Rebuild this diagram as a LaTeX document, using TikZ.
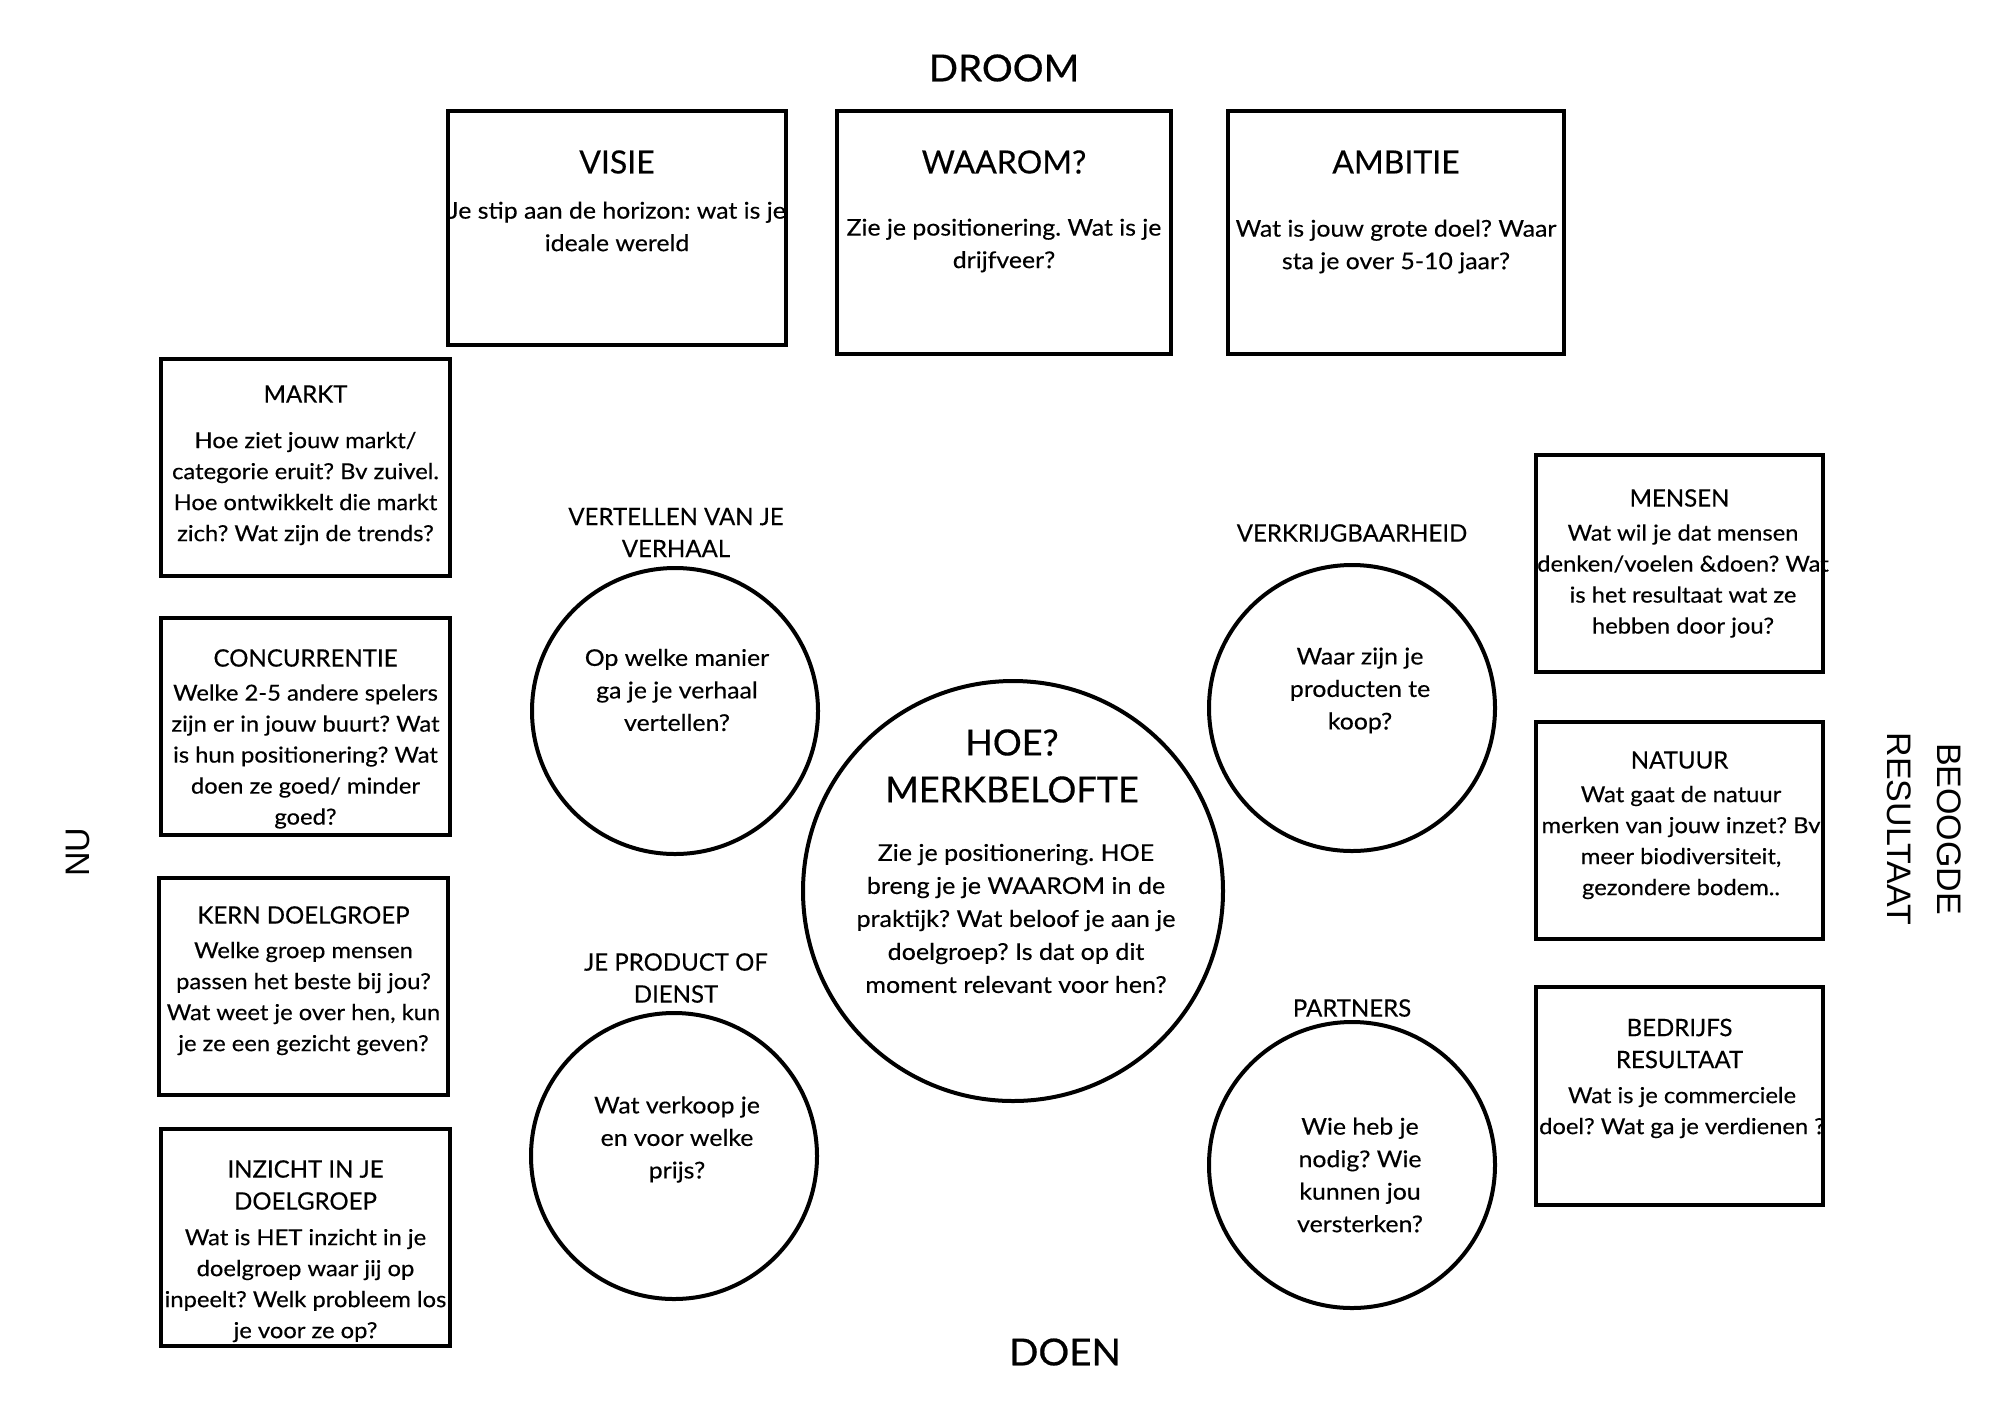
\documentclass[tikz,border=0pt]{standalone}
\usepackage{fontspec}
\setmainfont{Lato}[FakeBold=0.35]
\newfontfamily\bodyfam{Lato}[FakeStretch=1.08,FakeBold=0.35]
\newfontfamily\sidefam{Lato}[FakeStretch=1.04,FakeBold=0.6]
\newfontfamily\arialfont{Liberation Sans}
\frenchspacing
\tikzset{
  boxshape/.style={draw, line width=2pt, inner sep=0pt},
  circshape/.style={draw, circle, line width=2pt, inner sep=0pt, minimum size=143pt},
  txt/.style={align=center, inner sep=0pt},
  bodyt/.style={txt, font=\bodyfam\fontsize{11}{15.5}\selectfont},
  bodybig/.style={txt, font=\bodyfam\fontsize{11.5}{16.25}\selectfont},
  smalltitle/.style={txt, font=\fontsize{12}{16}\selectfont},
  bigtitle/.style={txt, font=\fontsize{16}{20}\selectfont},
  sidelabel/.style={txt, font=\sidefam\fontsize{18.5}{22}\selectfont},
  rotlabel/.style={txt, font=\arialfont\fontsize{17}{25}\selectfont},
}
\begin{document}
\begin{tikzpicture}[x=0.5pt,y=-0.5pt]
\useasboundingbox (0,0) rectangle (2000,1414);
\fill[white] (0,0) rectangle (2000,1414);

% side labels
\node[sidelabel] (droom) at (1004,68) {DROOM};
\node[sidelabel] (doen) at (1065,1352) {DOEN};
\node[rotlabel, rotate=90] (nu) at (78,852) {NU};
\node[rotlabel, rotate=-90] (beoogde) at (1924,829) {BEOOGDE\\RESULTAAT};

% top boxes
\node[boxshape, minimum width=169pt, minimum height=117pt] (visie) at (617,228) {};
\node[bigtitle] (visiet) at (617,162) {VISIE};
\node[bodybig] (visieb) at (617,226.5) {Je stip aan de horizon: wat is je\\ideale wereld};

\node[boxshape, minimum width=167pt, minimum height=121.5pt] (waarom) at (1004,232.5) {};
\node[bigtitle] (waaromt) at (1004,162) {WAAROM?};
\node[bodybig] (waaromb) at (1004,245.5) {Zie je positionering. Wat is je\\drijfveer?};

\node[boxshape, minimum width=168pt, minimum height=121.5pt] (ambitie) at (1396,232.5) {};
\node[bigtitle] (ambitiet) at (1396,162) {AMBITIE};
\node[bodybig] (ambitieb) at (1396,246.5) {Wat is jouw grote doel? Waar\\sta je over 5-10 jaar?};

% left boxes
\node[boxshape, minimum width=144.5pt, minimum height=108.5pt] (markt) at (305.5,467.5) {};
\node[smalltitle] (marktt) at (305.5,394) {MARKT};
\node[bodyt] (marktb) at (305.5,488.5) {Hoe ziet jouw markt/\\categorie eruit? Bv zuivel.\\Hoe ontwikkelt die markt\\zich? Wat zijn de trends?};

\node[boxshape, minimum width=144.5pt, minimum height=108.5pt] (conc) at (305.5,726.5) {};
\node[smalltitle] (conct) at (305.5,658) {CONCURRENTIE};
\node[bodyt] (concb) at (305.5,756.5) {Welke 2-5 andere spelers\\zijn er in jouw buurt? Wat\\is hun positionering? Wat\\doen ze goed/ minder\\goed?};

\node[boxshape, minimum width=144.5pt, minimum height=108.5pt] (kern) at (303.5,986.5) {};
\node[smalltitle] (kernt) at (303.5,915) {KERN DOELGROEP};
\node[bodyt] (kernb) at (303.5,998.5) {Welke groep mensen\\passen het beste bij jou?\\Wat weet je over hen, kun\\je ze een gezicht geven?};

\node[boxshape, minimum width=144.5pt, minimum height=108.5pt] (inzicht) at (305.5,1237.5) {};
\node[smalltitle] (inzichtt) at (305.5,1185) {INZICHT IN JE\\DOELGROEP};
\node[bodyt] (inzichtb) at (305.5,1285.5) {Wat is HET inzicht in je\\doelgroep waar jij op\\inpeelt? Welk probleem los\\je voor ze op?};

% right boxes
\node[boxshape, minimum width=143.5pt, minimum height=108.5pt] (mensen) at (1679.5,563.5) {};
\node[smalltitle] (mensent) at (1679.5,498) {MENSEN};
\node[bodyt] (mensenb) at (1683,581) {Wat wil je dat mensen\\denken/voelen \&doen? Wat\\is het resultaat wat ze\\hebben door jou?};

\node[boxshape, minimum width=143.5pt, minimum height=108.5pt] (natuur) at (1679.5,830.5) {};
\node[smalltitle] (natuurt) at (1679.5,760) {NATUUR};
\node[bodyt] (natuurb) at (1681,842.5) {Wat gaat de natuur\\merken van jouw inzet? Bv\\meer biodiversiteit,\\gezondere bodem..};

\node[boxshape, minimum width=143.5pt, minimum height=109pt] (bedrijf) at (1679.5,1096) {};
\node[smalltitle] (bedrijft) at (1679.5,1043.5) {BEDRIJFS\\RESULTAAT};
\node[bodyt] (bedrijfb) at (1682,1112.5) {Wat is je commerciele\\doel? Wat ga je verdienen ?};

% circles
\node[circshape] (vertel) at (675,711) {};
\node[smalltitle] (vertell) at (676,532.5) {VERTELLEN VAN JE\\VERHAAL};
\node[bodybig] (vertelb) at (677,690) {Op welke manier\\ga je je verhaal\\vertellen?};

\node[circshape] (product) at (674,1156) {};
\node[smalltitle] (productl) at (676,978) {JE PRODUCT OF\\DIENST};
\node[bodybig] (productb) at (677,1139.5) {Wat verkoop je\\en voor welke\\prijs?};

\node[circshape] (verkrijg) at (1352,708) {};
\node[smalltitle] (verkrijgl) at (1352,533) {VERKRIJGBAARHEID};
\node[bodybig] (verkrijgb) at (1360,690.5) {Waar zijn je\\producten te\\koop?};

\node[circshape] (partners) at (1352,1165) {};
\node[smalltitle] (partnersl) at (1352,1008) {PARTNERS};
\node[bodybig] (partnersb) at (1360,1175) {Wie heb je\\nodig? Wie\\kunnen jou\\versterken?};

\node[circshape, minimum size=210pt] (hoe) at (1013,891) {};
\node[txt, font=\fontsize{18}{23.5}\selectfont] (hoet) at (1012,766) {HOE?\\MERKBELOFTE};
\node[bodybig, font=\bodyfam\fontsize{11.6}{16.5}\selectfont] (hoeb) at (1016,918.5) {Zie je positionering. HOE\\breng je je WAAROM in de\\praktijk? Wat beloof je aan je\\doelgroep? Is dat op dit\\moment relevant voor hen?};
\end{tikzpicture}
\end{document}
